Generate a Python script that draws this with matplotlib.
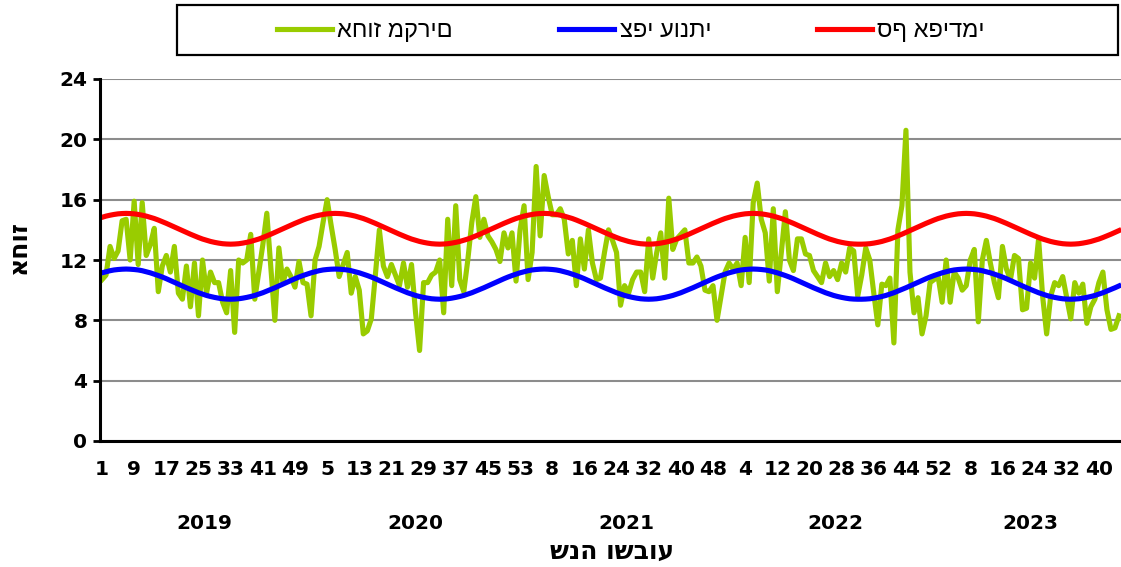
import matplotlib
matplotlib.use("Agg")
import numpy as np
import matplotlib.pyplot as plt
from matplotlib.patches import Rectangle
from matplotlib.lines import Line2D
from matplotlib.transforms import blended_transform_factory

plt.rcParams['font.family'] = ['DejaVu Sans']

# weekly series, 2019 week 1 .. 2023 week 45
years = [2019, 2020, 2021, 2022, 2023]
weeks_in_year = [52, 53, 52, 52, 45]
tick_labels = ['1', '9', '17', '25', '33', '41', '49',
               '5', '13', '21', '29', '37', '45', '53',
               '8', '16', '24', '32', '40', '48',
               '4', '12', '20', '28', '36', '44', '52',
               '8', '16', '24', '32', '40']

case_pct = [
    10.7, 11.0, 12.9, 12.1, 12.6, 14.6, 14.7, 12.0, 15.9, 11.7,
    15.8, 12.3, 13.0, 14.1, 9.9, 11.6, 12.3, 11.2, 12.9, 9.8,
    9.4, 11.6, 8.9, 11.8, 8.3, 12.0, 9.8, 11.2, 10.5, 10.5,
    9.2, 8.5, 11.3, 7.2, 12.0, 11.8, 12.0, 13.7, 9.4, 11.2,
    13.0, 15.1, 11.5, 8.0, 12.8, 10.5, 11.4, 10.9, 10.2, 11.9,
    10.5, 10.4, 8.3, 12.0, 12.9, 14.5, 16.0, 14.3, 12.7, 10.9,
    11.7, 12.5, 9.8, 10.9, 10.0, 7.1, 7.3, 8.1, 11.0, 14.0,
    11.6, 10.9, 11.7, 11.0, 10.3, 11.8, 10.2, 11.7, 8.5, 6.0,
    10.5, 10.5, 11.0, 11.2, 12.0, 8.5, 14.7, 10.3, 15.6, 10.7,
    9.9, 12.0, 14.5, 16.2, 13.5, 14.7, 13.6, 13.2, 12.7, 11.9,
    13.8, 12.8, 13.8, 10.6, 14.0, 15.6, 10.7, 12.5, 18.2, 13.6,
    17.6, 16.2, 15.0, 15.0, 15.4, 14.7, 12.4, 13.3, 10.3, 13.4,
    11.4, 14.0, 11.8, 10.7, 10.8, 12.5, 14.0, 13.3, 12.5, 9.0,
    10.3, 9.8, 10.7, 11.2, 11.2, 9.9, 13.4, 10.8, 12.5, 13.8,
    10.8, 16.1, 12.7, 13.4, 13.7, 14.0, 11.8, 11.8, 12.2, 11.6,
    10.0, 9.9, 10.3, 8.0, 9.6, 11.2, 11.8, 11.4, 11.8, 10.3,
    13.5, 10.5, 15.8, 17.1, 14.7, 13.8, 10.6, 15.4, 9.9, 12.5,
    15.2, 12.0, 11.3, 13.4, 13.4, 12.4, 12.3, 11.3, 10.9, 10.5,
    11.8, 10.9, 11.3, 10.7, 11.8, 11.2, 12.8, 12.6, 9.6, 11.0,
    12.8, 12.0, 9.8, 7.7, 10.4, 10.3, 10.8, 6.5, 14.0, 15.6,
    20.6, 11.2, 8.5, 9.5, 7.1, 8.3, 10.5, 10.7, 10.9, 9.2,
    12.0, 9.2, 11.2, 10.8, 10.0, 10.3, 12.0, 12.7, 7.9, 12.0,
    13.3, 11.8, 10.5, 9.5, 12.9, 11.4, 10.7, 12.3, 12.1, 8.7,
    8.8, 11.8, 10.8, 13.4, 9.6, 7.1, 9.6, 10.5, 10.3, 10.9,
    9.5, 8.1, 10.5, 9.8, 10.4, 7.8, 8.9, 9.4, 10.5, 11.2,
    8.7, 7.4, 7.5, 8.3,
]

seasonal = [
    11.15, 11.22, 11.29, 11.34, 11.37, 11.39, 11.40,
    11.39, 11.37, 11.34, 11.29, 11.22, 11.15, 11.06, 10.97, 10.87, 10.76, 10.64, 10.52, 10.40,
    10.28, 10.16, 10.05, 9.94, 9.83, 9.74, 9.65, 9.58, 9.52, 9.47, 9.43, 9.41, 9.40,
    9.41, 9.43, 9.47, 9.52, 9.58, 9.65, 9.74, 9.83, 9.94, 10.05, 10.16, 10.28, 10.40,
    10.52, 10.64, 10.76, 10.87, 10.97, 11.06, 11.15, 11.22, 11.29, 11.34, 11.37, 11.39,
    11.40,
    11.39, 11.37, 11.34, 11.29, 11.22, 11.15, 11.06, 10.97, 10.87, 10.76, 10.64, 10.52, 10.40,
    10.28, 10.16, 10.05, 9.94, 9.83, 9.74, 9.65, 9.58, 9.52, 9.47, 9.43, 9.41, 9.40,
    9.41, 9.43, 9.47, 9.52, 9.58, 9.65, 9.74, 9.83, 9.94, 10.05, 10.16, 10.28, 10.40,
    10.52, 10.64, 10.76, 10.87, 10.97, 11.06, 11.15, 11.22, 11.29, 11.34, 11.37, 11.39,
    11.40,
    11.39, 11.37, 11.34, 11.29, 11.22, 11.15, 11.06, 10.97, 10.87, 10.76, 10.64, 10.52, 10.40,
    10.28, 10.16, 10.05, 9.94, 9.83, 9.74, 9.65, 9.58, 9.52, 9.47, 9.43, 9.41, 9.40,
    9.41, 9.43, 9.47, 9.52, 9.58, 9.65, 9.74, 9.83, 9.94, 10.05, 10.16, 10.28, 10.40,
    10.52, 10.64, 10.76, 10.87, 10.97, 11.06, 11.15, 11.22, 11.29, 11.34, 11.37, 11.39,
    11.40,
    11.39, 11.37, 11.34, 11.29, 11.22, 11.15, 11.06, 10.97, 10.87, 10.76, 10.64, 10.52, 10.40,
    10.28, 10.16, 10.05, 9.94, 9.83, 9.74, 9.65, 9.58, 9.52, 9.47, 9.43, 9.41, 9.40,
    9.40,
    9.41, 9.43, 9.47, 9.52, 9.58, 9.65, 9.74, 9.83, 9.94, 10.05, 10.16, 10.28, 10.40,
    10.52, 10.64, 10.76, 10.87, 10.97, 11.06, 11.15, 11.22, 11.29, 11.34, 11.37, 11.39,
    11.40,
    11.39, 11.37, 11.34, 11.29, 11.22, 11.15, 11.06, 10.97, 10.87, 10.76, 10.64, 10.52, 10.40,
    10.28, 10.16, 10.05, 9.94, 9.83, 9.74, 9.65, 9.58, 9.52, 9.47, 9.43, 9.41, 9.40,
    9.41, 9.43, 9.47, 9.52, 9.58, 9.65, 9.74, 9.83, 9.94, 10.05, 10.16, 10.28,
]

threshold = [
    14.83, 14.91, 14.97, 15.02, 15.06, 15.08, 15.09,
    15.08, 15.06, 15.02, 14.97, 14.91, 14.83, 14.75, 14.65, 14.54, 14.43, 14.31, 14.19, 14.07,
    13.95, 13.83, 13.71, 13.60, 13.49, 13.39, 13.31, 13.23, 13.17, 13.12, 13.08, 13.06, 13.05,
    13.06, 13.08, 13.12, 13.17, 13.23, 13.31, 13.39, 13.49, 13.60, 13.71, 13.83, 13.95, 14.07,
    14.19, 14.31, 14.43, 14.54, 14.65, 14.75, 14.83, 14.91, 14.97, 15.02, 15.06, 15.08,
    15.09,
    15.08, 15.06, 15.02, 14.97, 14.91, 14.83, 14.75, 14.65, 14.54, 14.43, 14.31, 14.19, 14.07,
    13.95, 13.83, 13.71, 13.60, 13.49, 13.39, 13.31, 13.23, 13.17, 13.12, 13.08, 13.06, 13.05,
    13.06, 13.08, 13.12, 13.17, 13.23, 13.31, 13.39, 13.49, 13.60, 13.71, 13.83, 13.95, 14.07,
    14.19, 14.31, 14.43, 14.54, 14.65, 14.75, 14.83, 14.91, 14.97, 15.02, 15.06, 15.08,
    15.09,
    15.08, 15.06, 15.02, 14.97, 14.91, 14.83, 14.75, 14.65, 14.54, 14.43, 14.31, 14.19, 14.07,
    13.95, 13.83, 13.71, 13.60, 13.49, 13.39, 13.31, 13.23, 13.17, 13.12, 13.08, 13.06, 13.05,
    13.06, 13.08, 13.12, 13.17, 13.23, 13.31, 13.39, 13.49, 13.60, 13.71, 13.83, 13.95, 14.07,
    14.19, 14.31, 14.43, 14.54, 14.65, 14.75, 14.83, 14.91, 14.97, 15.02, 15.06, 15.08,
    15.09,
    15.08, 15.06, 15.02, 14.97, 14.91, 14.83, 14.75, 14.65, 14.54, 14.43, 14.31, 14.19, 14.07,
    13.95, 13.83, 13.71, 13.60, 13.49, 13.39, 13.31, 13.23, 13.17, 13.12, 13.08, 13.06, 13.05,
    13.05,
    13.06, 13.08, 13.12, 13.17, 13.23, 13.31, 13.39, 13.49, 13.60, 13.71, 13.83, 13.95, 14.07,
    14.19, 14.31, 14.43, 14.54, 14.65, 14.75, 14.83, 14.91, 14.97, 15.02, 15.06, 15.08,
    15.09,
    15.08, 15.06, 15.02, 14.97, 14.91, 14.83, 14.75, 14.65, 14.54, 14.43, 14.31, 14.19, 14.07,
    13.95, 13.83, 13.71, 13.60, 13.49, 13.39, 13.31, 13.23, 13.17, 13.12, 13.08, 13.06, 13.05,
    13.06, 13.08, 13.12, 13.17, 13.23, 13.31, 13.39, 13.49, 13.60, 13.71, 13.83, 13.95,
]

series_labels = ['אחוז מקרים', 'צפי עונתי', 'סף אפידמי']
series_colors = ['#99CC00', '#0000FF', '#FF0000']
y_label = 'אחוז'
x_label = 'שנה ושבוע'

n = len(case_pct)
x = np.arange(n)

fig = plt.figure(figsize=(11.21, 5.67), dpi=100)
ax = fig.add_axes([100 / 1121, 1 - 441 / 567, 1021 / 1121, 362 / 567])

for vals, col in zip([case_pct, seasonal, threshold], series_colors):
    ax.plot(x[:len(vals)], vals, color=col, lw=3.7, solid_joinstyle='round')

ax.set_xlim(-0.5, n - 0.5)
ax.set_ylim(0, 24)
ax.set_yticks(np.arange(0, 25, 4))
ax.yaxis.grid(True, color='#8c8c8c', lw=1.5)
ax.set_axisbelow(True)

for s in ['top', 'right']:
    ax.spines[s].set_visible(False)
for s in ['left', 'bottom']:
    ax.spines[s].set_linewidth(2.2)
    ax.spines[s].set_color('black')

ax.tick_params(axis='y', direction='out', length=5, width=2, pad=4,
               labelsize=14.5)
for lab in ax.get_yticklabels():
    lab.set_fontweight('bold')

tick_pos = np.arange(0, n, 8)[:len(tick_labels)]
ax.set_xticks(tick_pos)
ax.set_xticklabels(tick_labels, fontsize=14.5, fontweight='bold')
ax.tick_params(axis='x', length=0, pad=14)

# year labels under the week numbers
trans = blended_transform_factory(ax.transData, ax.transAxes)
start = 0
for yr, nw in zip(years, weeks_in_year):
    ax.text(start + (nw - 1) / 2, -0.228, str(yr), transform=trans,
            ha='center', va='center', fontsize=14.5, fontweight='bold')
    start += nw

fig.text(0.546, 1 - 552 / 567, x_label, ha='center', va='center',
         fontsize=18, fontweight='bold')
fig.text(19 / 1121, 1 - 247 / 567, y_label, ha='center', va='center',
         rotation=90, fontsize=18, fontweight='bold')

# legend with a box across the top
handles = [Line2D([], [], color=c, lw=3.7) for c in series_colors]
fig.legend(handles, series_labels, loc='center',
           bbox_to_anchor=(0.563, 1 - 31 / 567), ncol=3, frameon=False,
           handlelength=2.3, handletextpad=0.25, columnspacing=4.5,
           prop={'family': ['Liberation Sans Narrow', 'Liberation Sans', 'DejaVu Sans'],
                 'size': 17})
fig.patches.append(Rectangle((177 / 1121, 1 - 55 / 567), 941 / 1121, 50 / 567,
                             transform=fig.transFigure, fill=False,
                             edgecolor='black', lw=1.6))

fig.savefig('out.png', dpi=100)
